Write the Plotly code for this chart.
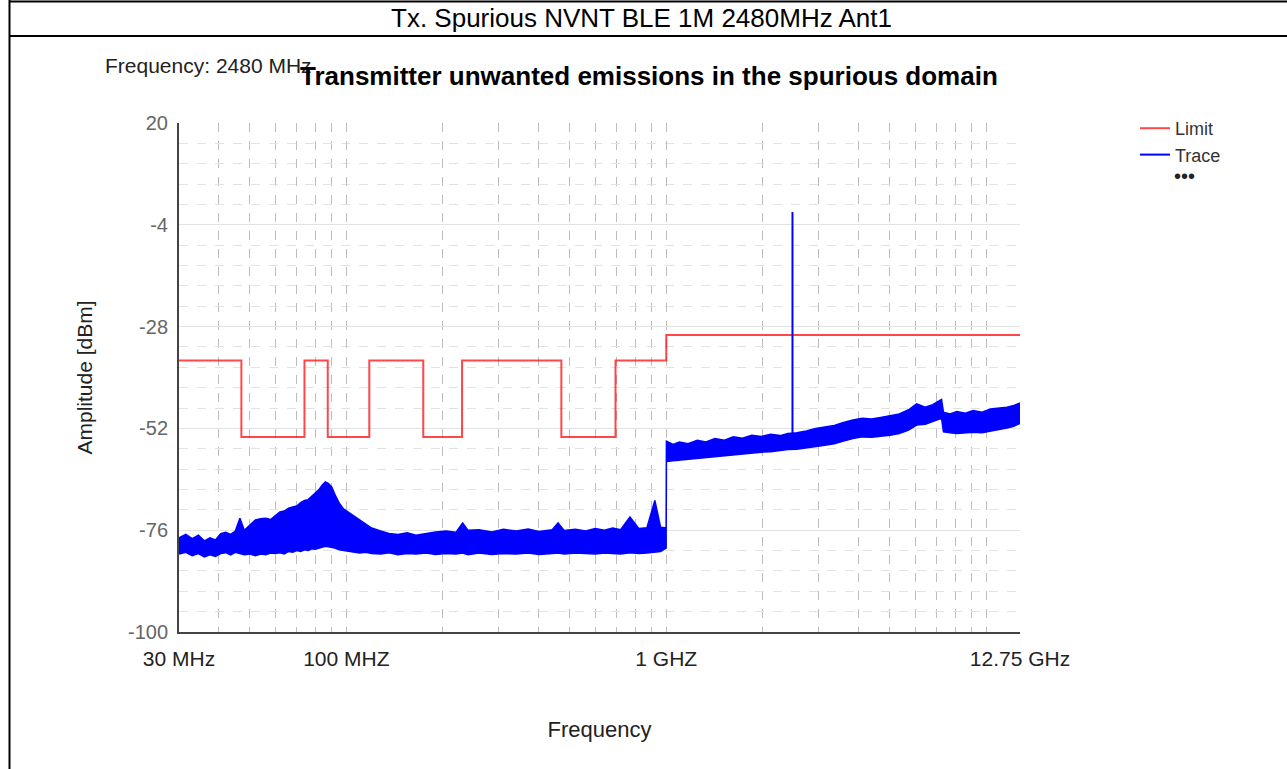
import math
import plotly.graph_objects as go

# ---------------- data ----------------
limit_edges_mhz = [30, 47, 74, 87.5, 118, 174, 230, 470, 694, 1000, 12750]
limit_dbm = [-36, -54, -36, -54, -36, -54, -36, -54, -36, -30]

freq_lo = [30, 31.5, 33, 34.5, 36, 37.5, 39, 40.5, 42, 43.5, 45, 46.5, 48, 50, 52, 54, 56, 58,
           60, 62, 64, 66, 68, 70, 72, 74, 76, 78, 80, 82, 84, 86, 88, 90, 92, 95, 98, 101, 105,
           110, 115, 120, 128, 136, 145, 155, 165, 178, 190, 205, 220, 231, 240, 260, 285, 310,
           340, 370, 400, 440, 459, 480, 520, 560, 600, 640, 680, 720, 770, 820, 870, 921, 960, 999]
upper_lo = [-77.8, -77.0, -78.0, -77.2, -78.5, -77.8, -78.3, -76.8, -76.5, -77.0, -76.2, -73.2, -76.0,
            -74.8, -73.6, -73.3, -73.2, -73.5, -72.5, -71.7, -71.5, -70.8, -70.5, -70.3, -69.5, -69.0,
            -68.8, -68.0, -67.2, -66.5, -65.4, -64.6, -65.0, -65.8, -67.5, -69.6, -71.0, -71.7, -72.5,
            -73.6, -74.5, -75.5, -76.2, -76.8, -77.0, -76.6, -77.2, -76.8, -76.4, -76.2, -76.5, -74.3,
            -76.0, -75.9, -76.4, -75.8, -76.2, -75.7, -76.3, -75.9, -74.3, -76.1, -75.8, -76.2, -75.6,
            -76.0, -75.5, -75.9, -72.9, -75.6, -75.4, -69.0, -75.3, -75.5]
lower_lo = [-81.6, -81.2, -82.0, -81.5, -82.3, -81.8, -82.2, -81.5, -81.3, -81.8, -81.2, -81.5, -81.8,
            -81.6, -82.0, -81.6, -81.8, -81.4, -81.5, -81.3, -81.6, -81.0, -81.2, -80.8, -81.0, -80.6,
            -80.8, -80.4, -80.5, -80.2, -80.0, -79.8, -79.9, -80.0, -80.2, -80.6, -80.8, -81.0, -81.2,
            -81.4, -81.2, -81.5, -81.6, -81.3, -81.8, -81.5, -81.6, -81.4, -81.7, -81.5, -81.6, -81.4,
            -81.8, -81.4, -81.7, -81.5, -81.6, -81.4, -81.7, -81.5, -81.4, -81.6, -81.4, -81.5, -81.6,
            -81.4, -81.5, -81.6, -81.3, -81.5, -81.4, -81.2, -81.0, -80.2]

freq_hi = [1001, 1050, 1100, 1170, 1250, 1330, 1420, 1520, 1620, 1730, 1850, 1980, 2120, 2270, 2400,
           2560, 2740, 2930, 3130, 3350, 3580, 3830, 4100, 4380, 4680, 5000, 5350, 5720, 6060, 6450,
           6800, 7100, 7250, 7350, 7700, 8100, 8600, 9100, 9700, 10300, 10900, 11600, 12200, 12750]
upper_hi = [-55.0, -55.8, -55.2, -55.6, -54.8, -55.2, -54.4, -54.8, -54.0, -54.3, -53.6, -53.9, -53.4,
            -53.7, -53.2, -53.0, -52.6, -52.0, -51.6, -51.3, -50.6, -50.0, -49.6, -49.8, -49.4, -49.0,
            -48.6, -47.6, -46.2, -47.0, -46.4, -45.6, -45.2, -48.2, -48.6, -48.0, -48.4, -47.8, -48.2,
            -47.4, -47.2, -47.0, -46.6, -46.0]
lower_hi = [-59.8, -59.6, -59.4, -59.2, -59.0, -58.8, -58.7, -58.5, -58.2, -58.0, -57.8, -57.6, -57.5,
            -57.3, -57.0, -56.9, -56.6, -56.3, -56.0, -55.6, -55.0, -54.4, -54.0, -54.1, -53.8, -53.6,
            -53.2, -52.4, -51.2, -51.0, -50.4, -49.8, -49.6, -52.8, -53.0, -53.2, -53.1, -52.9, -53.0,
            -52.6, -52.3, -51.9, -51.5, -50.8]

spike_freq_mhz = 2480
spike_dbm = [-57.0, -1.0]

x_tick_vals = [30, 100, 1000, 12750]
x_tick_text = ["30 MHz", "100 MHZ", "1 GHZ", "12.75 GHz"]
x_minor_vals = [40, 50, 60, 70, 80, 90, 200, 300, 400, 500, 600, 700, 800, 900,
                2000, 3000, 4000, 5000, 6000, 7000, 8000, 9000, 10000]
y_tick_vals = [20, -4, -28, -52, -76, -100]
y_tick_text = ["20", "-4", "-28", "-52", "-76", "-100"]

# ---------------- layout geometry (pixels) ----------------
W, H = 1287, 769
L, R, T, B = 179, 1020, 123, 632
pw, ph = R - L, B - T


def px(x):
    return (x - L) / pw


def py(y):
    return (B - y) / ph


FONT = "Liberation Sans, Arial, sans-serif"

fig = go.Figure()

# Limit line
fig.add_trace(go.Scatter(
    x=limit_edges_mhz, y=limit_dbm + [limit_dbm[-1]], mode="lines", line_shape="hv",
    line=dict(color="rgba(255,0,0,0.72)", width=2), name="Limit"))

# Trace band
freq_all = freq_lo + freq_hi
up_all = upper_lo + upper_hi
lo_all = lower_lo + lower_hi
fig.add_trace(go.Scatter(
    x=freq_all + freq_all[::-1], y=up_all + lo_all[::-1], mode="lines", fill="toself",
    fillcolor="#0000ff", line=dict(color="#0000ff", width=1.5), showlegend=False,
    hoverinfo="skip", name="Trace band"))

# Spike (carries the legend entry)
fig.add_trace(go.Scatter(
    x=[spike_freq_mhz, spike_freq_mhz], y=spike_dbm, mode="lines",
    line=dict(color="#0000ff", width=2), name="Trace"))

fig.update_xaxes(
    type="log", range=[math.log10(30), math.log10(12750)],
    tickmode="array", tickvals=x_tick_vals, ticktext=x_tick_text,
    tickfont=dict(family=FONT, size=21, color="#222"),
    ticks="", ticklabelstandoff=7,
    showgrid=True, gridcolor="#bdbdbd", griddash="dash", gridwidth=1,
    minor=dict(tickmode="array", tickvals=x_minor_vals, showgrid=True,
               gridcolor="#bdbdbd", griddash="dash", gridwidth=1),
    showline=True, linecolor="#444", linewidth=2, mirror=False, zeroline=False,
    title=dict(text="Frequency", font=dict(family=FONT, size=22, color="#222"), standoff=52),
)
fig.update_yaxes(
    range=[-100, 20], tickmode="array", tickvals=y_tick_vals, ticktext=y_tick_text,
    tickfont=dict(family=FONT, size=20, color="#666"),
    ticks="", ticklabelstandoff=5,
    showgrid=True, gridcolor="#e2e2e2", gridwidth=1,
    minor=dict(tick0=-100, dtick=4.8, showgrid=True, gridcolor="#e2e2e2", griddash="dash", gridwidth=1),
    showline=True, linecolor="#444", linewidth=2, zeroline=False,
    title=dict(text="Amplitude [dBm]", font=dict(family=FONT, size=21, color="#222"), standoff=30),
)

shapes = [
    dict(type="line", xref="paper", yref="paper", x0=px(9.5), x1=px(W + 5), y0=py(1.5), y1=py(1.5),
         line=dict(color="black", width=2)),
    dict(type="line", xref="paper", yref="paper", x0=px(9.5), x1=px(W + 5), y0=py(36), y1=py(36),
         line=dict(color="black", width=2)),
    dict(type="line", xref="paper", yref="paper", x0=px(9.5), x1=px(9.5), y0=py(0), y1=py(H + 5),
         line=dict(color="black", width=2)),
]

annotations = [
    dict(text="Tx. Spurious NVNT BLE 1M 2480MHz Ant1", xref="paper", yref="paper",
         x=px(641), y=py(18), showarrow=False, xanchor="center", yanchor="middle",
         font=dict(family=FONT, size=26, color="black")),
    dict(text="Frequency: 2480 MHz", xref="paper", yref="paper",
         x=px(103), y=py(65), showarrow=False, xanchor="left", yanchor="middle",
         font=dict(family=FONT, size=21, color="#222")),
    dict(text="<b>Transmitter unwanted emissions in the spurious domain</b>", xref="paper", yref="paper",
         x=px(649), y=py(76), showarrow=False, xanchor="center", yanchor="middle",
         font=dict(family=FONT, size=26, color="black")),
    dict(text="•••", xref="paper", yref="paper", x=px(1184), y=py(176), showarrow=False,
         xanchor="center", yanchor="middle", font=dict(family=FONT, size=20, color="#222")),
]

fig.update_layout(
    width=W, height=H, margin=dict(l=L, r=W - R, t=T, b=H - B),
    paper_bgcolor="white", plot_bgcolor="white",
    shapes=shapes, annotations=annotations,
    legend=dict(x=px(1135), y=py(110), xanchor="left", yanchor="top",
                font=dict(family=FONT, size=18, color="#333"), bgcolor="rgba(0,0,0,0)",
                tracegroupgap=0, itemwidth=30),
    showlegend=True,
)

fig.write_html("out.html")
